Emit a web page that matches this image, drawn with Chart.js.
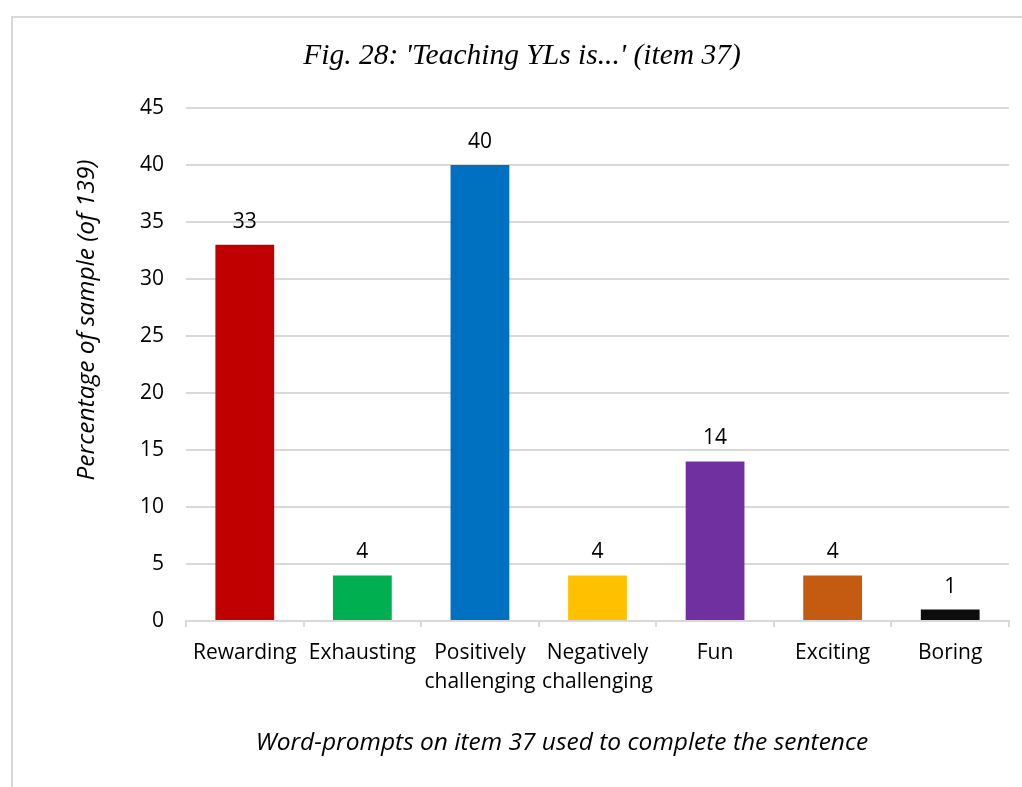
<!DOCTYPE html>
<html>
<head>
<meta charset="utf-8">
<script src="https://cdn.jsdelivr.net/npm/chart.js@4/dist/chart.umd.min.js"></script>
<style>
  html, body { margin: 0; padding: 0; background: #fff; overflow: hidden; }
  #frame {
    position: absolute; left: 11px; top: 16px;
    width: 1030px; height: 800px;
    border: 2px solid #d9d9d9;
  }
  #wrap { position: absolute; left: 0; top: 0; width: 1022px; height: 787px; }
</style>
</head>
<body>
<div id="frame"></div>
<div id="wrap"><canvas id="chart"></canvas></div>
<script>
const words = ['Rewarding', 'Exhausting', ['Positively', 'challenging'], ['Negatively', 'challenging'], 'Fun', 'Exciting', 'Boring'];
const percentages = [33, 4, 40, 4, 14, 4, 1];
const barColors = ['#c00000', '#00b050', '#0070c0', '#ffc000', '#7030a0', '#c55a11', '#0d0d0d'];
const yTicks = [0, 5, 10, 15, 20, 25, 30, 35, 40, 45];

const figTitle = "Fig. 28: 'Teaching YLs is...' (item 37)";
const yTitle = 'Percentage of sample (of 139)';
const xTitle = 'Word-prompts on item 37 used to complete the sentence';

const SANS = '"Open Sans", sans-serif';

// value above each bar + the three captions
const labelsPlugin = {
  id: 'labels',
  afterDatasetsDraw(chart) {
    const ctx = chart.ctx;
    ctx.save();
    ctx.fillStyle = '#000';
    ctx.font = '21px ' + SANS;
    ctx.textAlign = 'center';
    ctx.textBaseline = 'alphabetic';
    chart.getDatasetMeta(0).data.forEach((bar, i) => {
      ctx.fillText(String(percentages[i]), bar.x, bar.y - 17);
    });

    ctx.textBaseline = 'middle';
    ctx.font = 'italic 29.5px "Liberation Serif", "Times New Roman", serif';
    ctx.fillText(figTitle, 522, 56);

    ctx.font = 'italic 24.5px ' + SANS;
    ctx.fillText(xTitle, 562, 743);

    ctx.translate(87, 320);
    ctx.rotate(-Math.PI / 2);
    ctx.fillText(yTitle, 0, 0);
    ctx.restore();
  }
};

new Chart(document.getElementById('chart'), {
  type: 'bar',
  data: {
    labels: words,
    datasets: [{
      data: percentages,
      backgroundColor: barColors,
      borderWidth: 0,
      categoryPercentage: 1,
      barPercentage: 0.5
    }]
  },
  options: {
    responsive: true,
    maintainAspectRatio: false,
    animation: false,
    layout: { padding: { left: 0, right: 13, top: 108, bottom: 0 } },
    plugins: {
      legend: { display: false },
      tooltip: { enabled: false }
    },
    scales: {
      x: {
        afterFit(scale) { scale.height = 166; },
        border: { color: '#d9d9d9', width: 2 },
        grid: {
          offset: true,
          drawOnChartArea: false,
          drawTicks: true,
          tickLength: 6,
          color: '#d9d9d9',
          lineWidth: 2
        },
        ticks: {
          color: '#000',
          font: { family: SANS, size: 21, lineHeight: 1.38 },
          padding: 12,
          maxRotation: 0,
          autoSkip: false
        }
      },
      y: {
        min: 0,
        max: 45,
        afterFit(scale) { scale.width = 186; },
        afterBuildTicks(scale) { scale.ticks = yTicks.map(v => ({ value: v })); },
        border: { display: false },
        grid: { color: '#d9d9d9', lineWidth: 2, drawTicks: false },
        ticks: {
          color: '#000',
          font: { family: SANS, size: 21 },
          padding: 22
        }
      }
    }
  },
  plugins: [labelsPlugin]
});
</script>
</body>
</html>
